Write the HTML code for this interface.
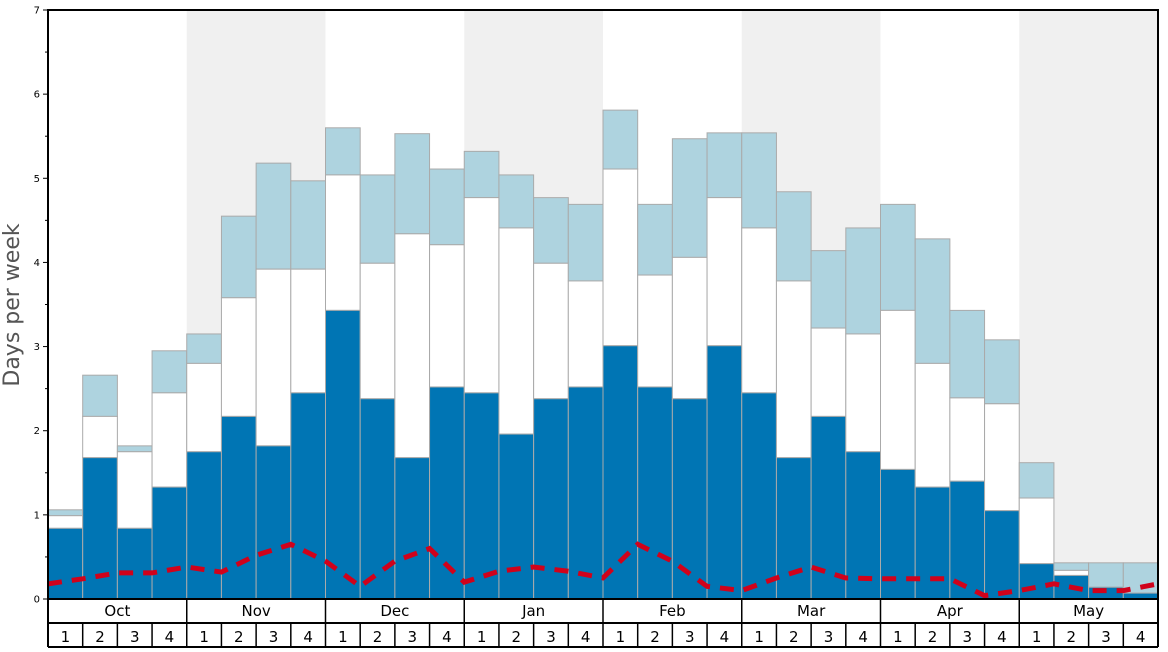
<!DOCTYPE html>
<html><head><meta charset="utf-8"><style>
body{margin:0;background:#fff;font-family:"DejaVu Sans","Liberation Sans",sans-serif}
</style></head><body>
<svg id="chart" width="1168" height="648" xmlns="http://www.w3.org/2000/svg"></svg>
<script>
const months=["Oct","Nov","Dec","Jan","Feb","Mar","Apr","May"];
const weeks=["1","2","3","4"];
const darkVals=[0.84,1.68,0.84,1.33,1.75,2.17,1.82,2.45,3.43,2.38,1.68,2.52,2.45,1.96,2.38,2.52,3.01,2.52,2.38,3.01,2.45,1.68,2.17,1.75,1.54,1.33,1.40,1.05,0.42,0.28,0.14,0.07];
const whiteVals=[0.99,2.17,1.75,2.45,2.80,3.58,3.92,3.92,5.04,3.99,4.34,4.21,4.77,4.41,3.99,3.78,5.11,3.85,4.06,4.77,4.41,3.78,3.22,3.15,3.43,2.80,2.39,2.32,1.20,0.34,0.14,0.07];
const lightVals=[1.06,2.66,1.82,2.95,3.15,4.55,5.18,4.97,5.60,5.04,5.53,5.11,5.32,5.04,4.77,4.69,5.81,4.69,5.47,5.54,5.54,4.84,4.14,4.41,4.69,4.28,3.43,3.08,1.62,0.43,0.43,0.43];
const lineVals=[0.18,0.24,0.31,0.31,0.38,0.32,0.52,0.65,0.45,0.15,0.45,0.6,0.2,0.33,0.38,0.33,0.25,0.65,0.45,0.15,0.1,0.25,0.38,0.25,0.24,0.24,0.24,0.04,0.1,0.18,0.1,0.1,0.18];
const yTicks=[0,1,2,3,4,5,6,7];

const svg=document.getElementById('chart');
const NS="http://www.w3.org/2000/svg";
const L=48,R=1158,T=10,B=599;
const n=darkVals.length, bw=(R-L)/n;
const x=i=>L+i*bw;
const y=v=>B-(v/7)*(B-T);
function mk(tag,attrs,parent){const e=document.createElementNS(NS,tag);for(const k in attrs)e.setAttribute(k,attrs[k]);(parent||svg).appendChild(e);return e;}

// month shading
months.forEach((m,i)=>{if(i%2===1){const r=mk('rect',{x:x(i*4),y:T,width:bw*4,height:B-T,fill:'#f0f0f0'});

}});

// bars
for(let i=0;i<n;i++){
 const g=mk('g',{});
 
 
 mk('rect',{x:x(i),y:y(lightVals[i]),width:bw,height:y(whiteVals[i])-y(lightVals[i]),fill:'#aed3df',stroke:'#aaa','stroke-width':1},g);
 mk('rect',{x:x(i),y:y(whiteVals[i]),width:bw,height:y(darkVals[i])-y(whiteVals[i]),fill:'#fff',stroke:'#aaa','stroke-width':1},g);
 mk('rect',{x:x(i),y:y(darkVals[i]),width:bw,height:B-y(darkVals[i]),fill:'#0075b4',stroke:'#aaa','stroke-width':1},g);
}

// dashed line
const pts=lineVals.map((v,i)=>x(i)+','+y(v)).join(' ');
const pl=mk('polyline',{points:pts,fill:'none',stroke:'#d0021b','stroke-width':5,'stroke-dasharray':'14,10'});



// axes
const ax=mk('rect',{x:L,y:T,width:R-L,height:B-T,fill:'none',stroke:'#000','stroke-width':2});


yTicks.forEach(t=>{
 mk('line',{x1:L-5,x2:L,y1:y(t),y2:y(t),stroke:'#000'});
 if(t<7)mk('line',{x1:L-3,x2:L,y1:y(t+0.5),y2:y(t+0.5),stroke:'#000'});
 const tx=mk('text',{x:L-8,y:y(t)+3.5,'font-size':10,'text-anchor':'end',fill:'#000'});
 
 
 tx.textContent=t;
});
const yt=mk('text',{x:19,y:305,'font-size':22,'text-anchor':'middle',fill:'#555',transform:'rotate(-90 19 305)'});


yt.textContent='Days per week';

// month row / week row
mk('line',{x1:L,x2:L,y1:B,y2:647,stroke:'#000','stroke-width':2});
mk('line',{x1:R,x2:R,y1:B,y2:647,stroke:'#000','stroke-width':2});
mk('line',{x1:L,x2:R,y1:623,y2:623,stroke:'#000','stroke-width':2});
mk('line',{x1:L,x2:R,y1:647,y2:647,stroke:'#000','stroke-width':2});
months.forEach((m,i)=>{
 mk('line',{x1:x(i*4),x2:x(i*4),y1:B,y2:623,stroke:'#000','stroke-width':1.5});
 const t=mk('text',{x:x(i*4)+bw*2,y:616,'font-size':15,'text-anchor':'middle',fill:'#000'});
 
 
 t.textContent=m;
});
for(let i=0;i<n;i++){
 mk('line',{x1:x(i),x2:x(i),y1:623,y2:647,stroke:'#000','stroke-width':1.5});
 const t=mk('text',{x:x(i)+bw/2,y:642,'font-size':15,'text-anchor':'middle',fill:'#000'});
 
 
 t.textContent=weeks[i%4];
}
</script>
</body></html>
